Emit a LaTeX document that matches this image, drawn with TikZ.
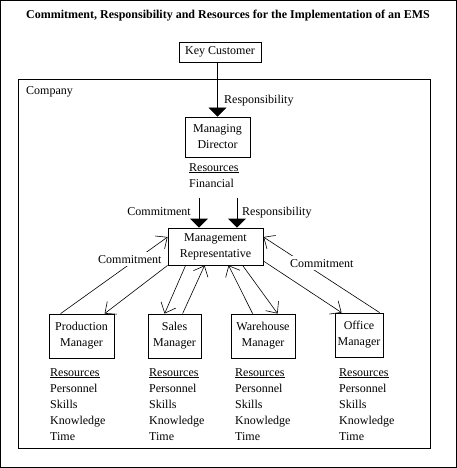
\documentclass[tikz,border=0pt]{standalone}
\usepackage{fontspec}
\setmainfont{Liberation Serif}
\usetikzlibrary{arrows.meta,positioning,calc}
\tikzset{
  box/.style={draw, line width=0.8pt, align=center, inner sep=2pt, font=\fontsize{12}{16}\selectfont},
  res/.style={align=left, inner sep=0pt, anchor=base west, font=\fontsize{12}{16}\selectfont},
  lbl/.style={font=\fontsize{12}{14}\selectfont, inner sep=1pt, anchor=base west},
  cut/.style={lbl, fill=white, inner sep=3pt},
  big/.style={-{Triangle[length=9pt,width=18pt]}, line width=0.8pt},
  fl/.style={-{Straight Barb[length=9pt,width=16pt]}, line width=0.6pt},
}

\begin{document}
\begin{tikzpicture}[x=1pt,y=-1pt]
  \useasboundingbox (0,0) rectangle (457,468);
  \draw[line width=1pt] (0.5,0.5) rectangle (456.5,467.5);
  \node[font=\bfseries\fontsize{12}{14}\selectfont] (title) at (228,16)
    {Commitment, Responsibility and Resources for the Implementation of an EMS};

  % ---- customer and company frame ----
  \node[box, minimum width=82pt, minimum height=20pt] (keycust) at (220,52) {Key Customer};
  \draw[line width=0.8pt] (18,79) rectangle (430,448);
  \node[lbl] (company) at (25,95) {Company};

  % ---- management ----
  \node[box, minimum width=65pt, minimum height=40pt] (mandir) at (217.5,137) {Managing\\Director};
  \node[res] (mdres) at (189,187) {\underline{Resources}\\Financial};
  \node[box, minimum width=95pt, minimum height=37pt] (mrep) at (215.5,246.5) {Management\\Representative};
  \draw[big] (keycust.south -| mandir.north) -- (mandir.north);
  \node[lbl] at (223,104) {Responsibility};
  \draw[big] ($(mrep.north)+(-16.5,-30)$) -- ([xshift=-16.5pt]mrep.north);
  \draw[big] ($(mrep.north)+(21.5,-30)$) -- ([xshift=21.5pt]mrep.north);
  \node[lbl, anchor=base east] at (192,215) {Commitment};
  \node[lbl] at (241,215) {Responsibility};

  % ---- managers ----
  \node[box, minimum width=65pt, minimum height=44pt] (prod) at (81.5,336) {Production\\Manager};
  \node[box, minimum width=53pt, minimum height=44pt] (sales) at (174.5,336) {Sales\\Manager};
  \node[box, minimum width=64pt, minimum height=44pt] (ware) at (263,336) {Warehouse\\Manager};
  \node[box, minimum width=48pt, minimum height=44pt] (office) at (359,335) {Office\\Manager};
  \foreach \n/\x in {prodres/50,salesres/149,wareres/235,officeres/339}
    \node[res] (\n) at (\x,440) {\underline{Resources}\\Personnel\\Skills\\Knowledge\\Time};

  % ---- commitment links ----
  \draw[fl] ([xshift=12pt]prod.north west) -- ([yshift=9.5pt]mrep.west);
  \draw[fl] (mrep.south west) -- ([xshift=56pt]prod.north west);
  \draw[fl] ([xshift=18pt]mrep.south west) -- ([xshift=17pt]sales.north west);
  \draw[fl] ([xshift=35pt]sales.north west) -- ([xshift=37pt]mrep.south west);
  \draw[fl] ([xshift=22pt]ware.north west) -- ([xshift=61pt]mrep.south west);
  \draw[fl] ([xshift=75pt]mrep.south west) -- ([xshift=47pt]ware.north west);
  \draw[fl] ([xshift=45pt]office.north west) -- ([yshift=9.5pt]mrep.east);
  \draw[fl] ([yshift=-14.5pt]mrep.east) -- ([xshift=7pt]office.north west);
  \node[cut] at (95,263) {Commitment};
  \node[cut] at (287,267) {Commitment};
\end{tikzpicture}
\end{document}
